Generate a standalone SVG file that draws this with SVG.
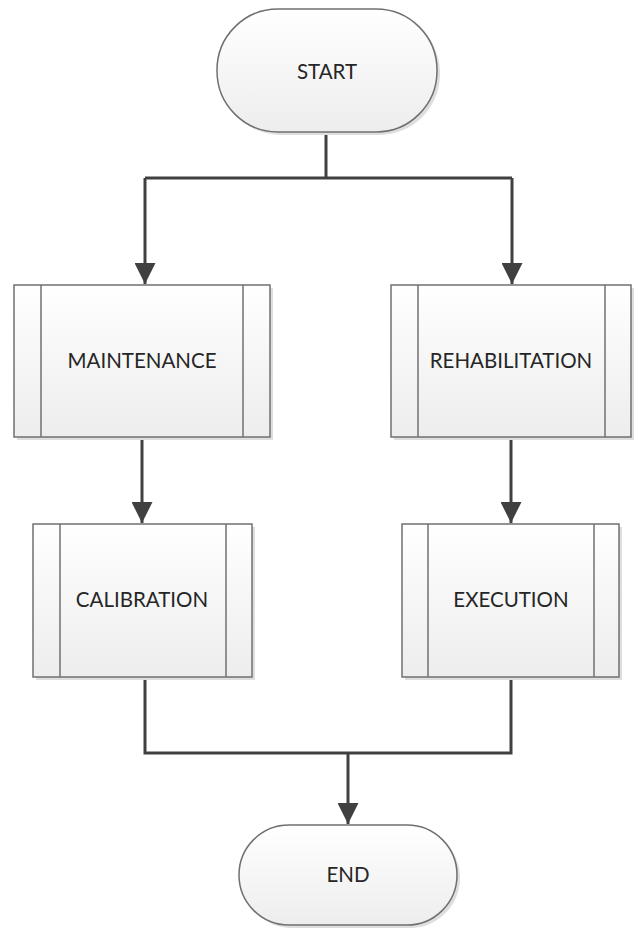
<svg xmlns="http://www.w3.org/2000/svg" width="638" height="931" viewBox="0 0 638 931">
<style>
.shape{fill:url(#g);stroke:#707070;stroke-width:1.5}
.inner{stroke:#707070;stroke-width:1.5}
.lbl{font-family:Lato,"Liberation Sans",sans-serif;font-size:20.5px;fill:#262626;text-anchor:middle}
.conn{fill:none;stroke:#404040;stroke-width:3}
.sh{fill:#dedede}
</style>
<defs>
<linearGradient id="g" x1="0" y1="0" x2="0" y2="1">
<stop offset="0" stop-color="#ffffff"/>
<stop offset="1" stop-color="#ededed"/>
</linearGradient>
<marker id="a" viewBox="0 0 10 10" refX="10" refY="5" markerWidth="7" markerHeight="7" markerUnits="strokeWidth" orient="auto">
<path d="M0,0 L10,5 L0,10 z" fill="#404040"/>
</marker>
</defs>
<g id="connectors">
<path class="conn" d="M326,132 V178"/>
<path class="conn" d="M145,178 H512"/>
<path class="conn" d="M145,178 V284" marker-end="url(#a)"/>
<path class="conn" d="M512,178 V284" marker-end="url(#a)"/>
<path class="conn" d="M142,437 V523" marker-end="url(#a)"/>
<path class="conn" d="M511,437 V523" marker-end="url(#a)"/>
<path class="conn" d="M145,677 V753 H511 V677"/>
<path class="conn" d="M348,753 V824" marker-end="url(#a)"/>
</g>
<g id="start">
<rect x="220" y="12" width="220" height="123" rx="61" class="sh"/>
<rect x="217" y="9" width="220" height="123" rx="61" class="shape"/>
<text x="327" y="79" class="lbl">START</text>
</g>
<g id="maintenance">
<rect x="17" y="288" width="256" height="152" class="sh"/>
<rect x="14" y="285" width="256" height="152" class="shape"/>
<line x1="41" y1="285" x2="41" y2="437" class="inner"/>
<line x1="243" y1="285" x2="243" y2="437" class="inner"/>
<text x="142" y="368" class="lbl">MAINTENANCE</text>
</g>
<g id="rehabilitation">
<rect x="394" y="288" width="240" height="152" class="sh"/>
<rect x="391" y="285" width="240" height="152" class="shape"/>
<line x1="418" y1="285" x2="418" y2="437" class="inner"/>
<line x1="605" y1="285" x2="605" y2="437" class="inner"/>
<text x="511" y="368" class="lbl">REHABILITATION</text>
</g>
<g id="calibration">
<rect x="36" y="527" width="219" height="153" class="sh"/>
<rect x="33" y="524" width="219" height="153" class="shape"/>
<line x1="60" y1="524" x2="60" y2="677" class="inner"/>
<line x1="226" y1="524" x2="226" y2="677" class="inner"/>
<text x="142" y="607" class="lbl">CALIBRATION</text>
</g>
<g id="execution">
<rect x="405" y="527" width="217" height="153" class="sh"/>
<rect x="402" y="524" width="217" height="153" class="shape"/>
<line x1="428" y1="524" x2="428" y2="677" class="inner"/>
<line x1="594" y1="524" x2="594" y2="677" class="inner"/>
<text x="511" y="607" class="lbl">EXECUTION</text>
</g>
<g id="end">
<rect x="242" y="828" width="218" height="100" rx="50" class="sh"/>
<rect x="239" y="825" width="218" height="100" rx="50" class="shape"/>
<text x="348" y="882" class="lbl">END</text>
</g>
</svg>
